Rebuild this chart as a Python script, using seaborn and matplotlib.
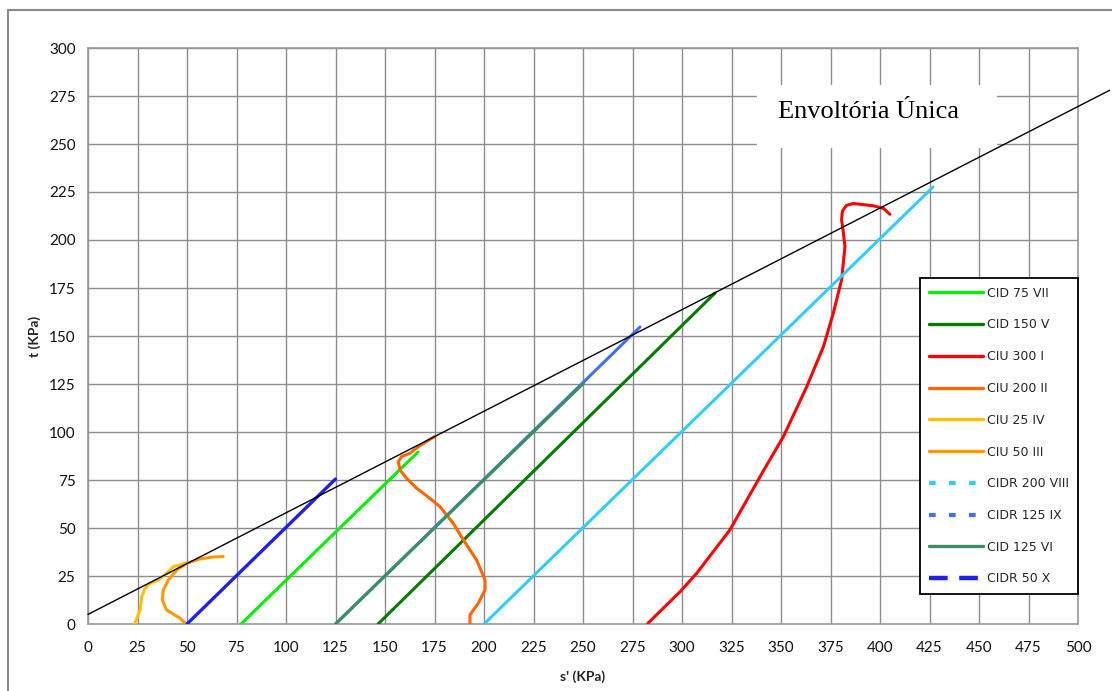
import matplotlib
matplotlib.use("Agg")
import matplotlib.pyplot as plt
from matplotlib.lines import Line2D
from matplotlib.patches import Rectangle
import seaborn as sns
import pandas as pd

# Stress paths t vs s' (kPa) for each triaxial test
cid75_s = [77.3, 166.7]
cid75_t = [0.0, 89.6]

cid150_s = [146.5, 316.7]
cid150_t = [0.0, 172.4]

ciu300_s = [282.8, 299.0, 307.4, 324.2, 339.4, 351.2, 363.0, 371.4, 376.4, 380.6,
            382.3, 381.5, 380.6, 381.0, 383.0, 386.5, 391.0, 396.6, 401.7, 405.0]
ciu300_t = [0.4, 16.8, 26.4, 49.0, 76.7, 97.6, 123.6, 144.4, 161.8, 179.2,
            196.5, 204.0, 210.4, 215.0, 218.0, 219.0, 218.5, 217.8, 216.5, 213.4]

ciu200_s = [192.9, 192.9, 197.1, 200.5, 200.5, 196.3, 189.6, 184.5, 177.8, 172.7,
            166.0, 160.9, 157.6, 156.7, 158.4, 162.6, 166.8, 172.7, 175.3]
ciu200_t = [0.4, 4.7, 10.8, 17.7, 22.9, 33.3, 43.8, 52.4, 61.1, 65.4,
            70.7, 75.9, 80.2, 84.5, 87.2, 88.9, 92.3, 96.2, 97.6]

ciu25_s = [23.7, 26.3, 27.1, 28.8, 31.3, 35.5, 39.7, 43.1, 46.5, 49.8]
ciu25_t = [0.4, 7.3, 14.2, 18.6, 21.2, 22.9, 26.4, 29.9, 30.7, 31.9]

ciu50_s = [49.5, 46.5, 39.7, 37.5, 38.0, 40.6, 44.8, 49.8, 56.6, 63.3, 68.3]
ciu50_t = [0.0, 3.0, 7.3, 12.5, 17.7, 22.9, 28.1, 31.6, 33.9, 34.9, 35.1]

cidr200_s = [200.0, 426.8]
cidr200_t = [0.0, 227.6]

cidr125_s = [125.0, 278.8]
cidr125_t = [0.0, 154.7]

cid125_s = [125.0, 250.2]
cid125_t = [0.0, 125.3]

cidr50_s = [50.0, 125.0]
cidr50_t = [0.0, 75.5]

# Failure envelope
env_s = [0.0, 516.0]
env_t = [5.0, 278.0]

x_ticks = list(range(0, 501, 25))
y_ticks = list(range(0, 301, 25))

sns.set_theme(style="white")
plt.rcParams["font.family"] = ["Lato", "DejaVu Sans"]

fig = plt.figure(figsize=(11.12, 6.91), dpi=100)
ax = fig.add_axes([88 / 1112, 1 - 624 / 691, 990 / 1112, 576 / 691])

# outer chart frame
fig.patches.append(Rectangle((8 / 1112, -0.05), 1.2, 1 - 10 / 691 + 0.05,
                             transform=fig.transFigure, fill=False,
                             edgecolor="#8a8a8a", linewidth=1.5))

series = [
    ("CIDR 125 IX", cidr125_s, cidr125_t, "#3f6fff", 2.2),
    ("CID 75 VII", cid75_s, cid75_t, "#00ee00", 2.2),
    ("CID 150 V", cid150_s, cid150_t, "#007a00", 2.2),
    ("CIU 300 I", ciu300_s, ciu300_t, "#ff0000", 2.2),
    ("CIU 200 II", ciu200_s, ciu200_t, "#ff6600", 2.2),
    ("CIU 25 IV", ciu25_s, ciu25_t, "#ffc000", 2.2),
    ("CIU 50 III", ciu50_s, ciu50_t, "#ff9900", 2.2),
    ("CIDR 200 VIII", cidr200_s, cidr200_t, "#33ccff", 2.2),
    ("CID 125 VI", cid125_s, cid125_t, "#3c8f64", 2.2),
    ("CIDR 50 X", cidr50_s, cidr50_t, "#2020ee", 2.4),
]

for name, s, t, color, lw in series:
    df = pd.DataFrame({"s": s, "t": t})
    sns.lineplot(data=df, x="s", y="t", sort=False, estimator=None,
                 color=color, linewidth=lw, ax=ax, zorder=3)

sns.lineplot(data=pd.DataFrame({"s": env_s, "t": env_t}), x="s", y="t",
             sort=False, estimator=None, color="black", linewidth=1.0,
             ax=ax, zorder=4, clip_on=False)

ax.set_xlim(0, 500)
ax.set_ylim(0, 300)
ax.set_xticks(x_ticks)
ax.set_yticks(y_ticks)
ax.grid(True, color="#8c8c8c", linewidth=1.0)
ax.set_axisbelow(True)
for sp in ax.spines.values():
    sp.set_color("#9a9a9a")
    sp.set_linewidth(1.2)
ax.tick_params(axis="both", direction="out", length=5, width=1,
               color="#9a9a9a", labelsize=11, labelcolor="#111111", pad=4)
ax.tick_params(axis="x", pad=7)
ax.set_xlabel("s' (KPa)", fontsize=10, fontweight="bold", labelpad=11)
ax.set_ylabel("t (KPa)", fontsize=10, fontweight="bold", labelpad=6)

# title box
ax.add_patch(Rectangle(((757 - 88) / 990, (624 - 148) / 576), 240 / 990, 63 / 576,
                       transform=ax.transAxes, facecolor="white",
                       edgecolor="none", zorder=2.5))
ax.text((868 - 88) / 990, (624 - 112) / 576, "Envoltória Única",
        transform=ax.transAxes, ha="center", va="center",
        fontsize=19, family="Liberation Serif", color="black", zorder=5)

legend_order = ["CID 75 VII", "CID 150 V", "CIU 300 I", "CIU 200 II", "CIU 25 IV",
                "CIU 50 III", "CIDR 200 VIII", "CIDR 125 IX", "CID 125 VI", "CIDR 50 X"]
colors = {name: color for name, _, _, color, _ in series}
handle_style = {"CIDR 200 VIII": ((0, (1.6, 3.2)), 3.0),
                "CIDR 125 IX": ((0, (1.6, 3.2)), 3.0),
                "CIDR 50 X": ((0, (4.2, 2.6)), 3.2)}
handles = []
for name in legend_order:
    hls, hlw = handle_style.get(name, ("-", 2.4))
    handles.append(Line2D([], [], color=colors[name], linestyle=hls, linewidth=hlw))

leg = ax.legend(handles, legend_order, loc="upper right",
                bbox_to_anchor=(1.0, (624 - 278) / 576),
                prop={"family": "DejaVu Sans", "size": 9},
                frameon=True, fancybox=False, framealpha=1,
                edgecolor="black", handlelength=4.3, handletextpad=0.35,
                labelspacing=1.5, borderpad=0.7, borderaxespad=0)
leg.get_frame().set_linewidth(1.3)
leg.set_zorder(6)

fig.savefig("out.png", dpi=100)
